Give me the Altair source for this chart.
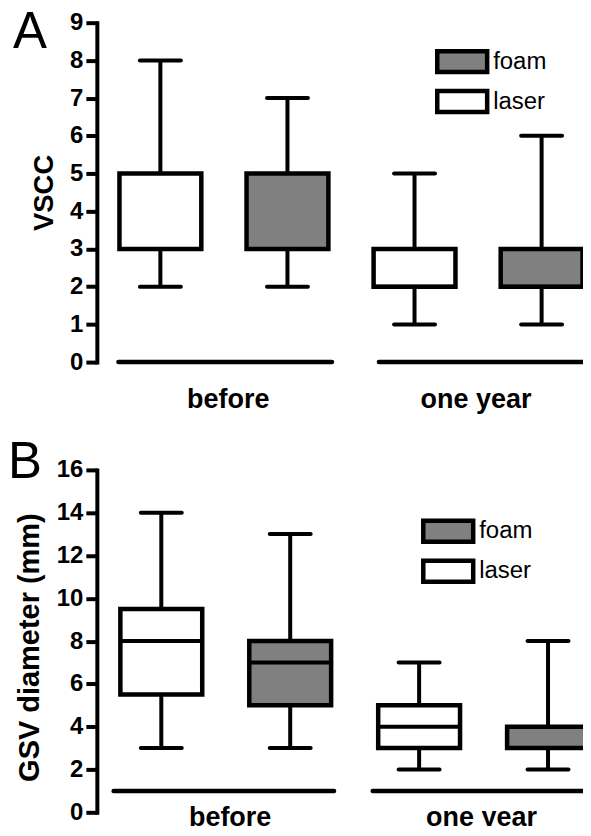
import altair as alt
import pandas as pd

FONT = "Liberation Sans"

positions = [1, 2, 3, 4]
methods = ["laser", "foam", "laser", "foam"]
legend_order = ["foam", "laser"]
fills = ["#808080", "#ffffff"]

# Panel A: VSCC
a_min = [2, 2, 1, 1]
a_q1 = [3, 3, 2, 2]
a_med = [3, 3, 2, 2]
a_q3 = [5, 5, 3, 3]
a_max = [8, 7, 5, 6]

# Panel B: GSV diameter (mm)
b_min = [3, 3, 2, 2]
b_q1 = [5.5, 5, 3, 3]
b_med = [8, 7, 4, 3]
b_q3 = [9.5, 8, 5, 4]
b_max = [14, 13, 7, 8]

group_names = ["before", "one year"]
group_centers = [1.53, 3.48]
a_xmax = 4.365
b_xmax = 4.31
a_line_start = [0.67, 2.72]
a_line_end = [2.35, a_xmax]
a_line_level = [0, 0]
b_line_start = [0.63, 2.64]
b_line_end = [2.34, b_xmax]
b_line_level = [1, 1]


def panel(letter, title, title_size, mins, q1, med, q3, maxs, ymax, ystep, x_max,
          width, height, line_start, line_end, line_level, label_pad, title_x,
          title_dy, letter_x, letter_y, legend_x, legend_y):
    df = pd.DataFrame(dict(pos=positions, method=methods, lo=mins, q1=q1,
                           med=med, q3=q3, hi=maxs))
    lines = pd.DataFrame(dict(group=group_names, start=line_start, end=line_end,
                              level=line_level))
    xs = alt.Scale(domain=[0.5, x_max], nice=False, zero=False)
    ys = alt.Scale(domain=[0, ymax], nice=False, zero=True)
    label_expr = (f"datum.value < {sum(group_centers) / 2} ? "
                  f"'{group_names[0]}' : '{group_names[1]}'")
    xaxis = alt.Axis(values=group_centers, labelExpr=label_expr, domain=False,
                     ticks=False, tickSize=0, grid=False, labelPadding=label_pad,
                     labelBaseline="alphabetic", labelFontSize=27, labelFont=FONT,
                     labelFontWeight="bold", labelColor="black", title=None,
                     labelOverlap=False)
    yaxis = alt.Axis(values=list(range(0, ymax + 1, ystep)), domainWidth=4,
                     domainColor="black", domainCap="square", tickWidth=4,
                     tickColor="black", tickSize=11, labelPadding=3,
                     labelFontSize=24, labelFont=FONT, labelFontWeight="bold",
                     labelColor="black", grid=False, title=title,
                     titleFontSize=title_size, titleFont=FONT,
                     titleFontWeight="bold", titleColor="black", titleX=title_x,
                     titleY=height / 2 + title_dy, titleBaseline="alphabetic",
                     titleAlign="center", titleAngle=270, labelOverlap=False)

    def X(field):
        return alt.X(field, scale=xs, axis=xaxis)

    def Y(field):
        return alt.Y(field, scale=ys, axis=yaxis)

    base = alt.Chart(df)
    whisk = base.mark_rule(color="black", strokeWidth=4).encode(
        x=X("pos:Q"), y=Y("lo:Q"), y2="hi:Q")
    cap_lo = base.mark_rule(color="black", strokeWidth=4, strokeCap="round",
                            xOffset=-20.5, x2Offset=20.5).encode(
        x=X("pos:Q"), x2="pos:Q", y=Y("lo:Q"))
    cap_hi = base.mark_rule(color="black", strokeWidth=4, strokeCap="round",
                            xOffset=-20.5, x2Offset=20.5).encode(
        x=X("pos:Q"), x2="pos:Q", y=Y("hi:Q"))
    box = base.mark_rect(stroke="black", strokeWidth=4.5, xOffset=-41,
                         x2Offset=41).encode(
        x=X("pos:Q"), x2="pos:Q", y=Y("q1:Q"), y2="q3:Q",
        fill=alt.Fill("method:N",
                      scale=alt.Scale(domain=legend_order, range=fills),
                      legend=alt.Legend(
                          title=None, orient="none", legendX=legend_x,
                          legendY=legend_y, padding=0,
                          symbolType="M-2,-0.84H2V0.84H-2Z", symbolSize=625,
                          symbolStrokeColor="black", symbolStrokeWidth=4.5,
                          symbolOpacity=1,
                          labelFontSize=24, labelFont=FONT, labelColor="black",
                          labelOffset=16, rowPadding=0)),
    )
    median = base.mark_rule(color="black", strokeWidth=4, xOffset=-41,
                            x2Offset=41).encode(x=X("pos:Q"), x2="pos:Q",
                                                y=Y("med:Q"))
    glines = alt.Chart(lines).mark_rule(color="black", strokeWidth=4.5,
                                        strokeCap="round").encode(
        x=X("start:Q"), x2="end:Q", y=Y("level:Q"))
    let = alt.Chart(pd.DataFrame({"letter": [letter]})).mark_text(
        fontSize=51, font=FONT, align="left", baseline="top",
        color="black").encode(text="letter:N", x=alt.value(letter_x),
                              y=alt.value(letter_y))
    return alt.layer(whisk, cap_lo, cap_hi, box, median, glines, let).properties(
        width=width, height=height)


pa = panel("A", "VSCC", 27.5, a_min, a_q1, a_med, a_q3, a_max, 9, 1, a_xmax, 492,
           340, a_line_start, a_line_end, a_line_level, 45, -44, 0, -84, -14.5,
           351, 24)
pb = panel("B", "GSV diameter (mm)", 29, b_min, b_q1, b_med, b_q3, b_max, 16, 2,
           b_xmax, 492, 343, b_line_start, b_line_end, b_line_level, 13, -58, 6,
           -89, -31.5, 337, 46.5)

chart = alt.vconcat(pa, pb, spacing=25).resolve_scale(
    fill="independent", x="independent", y="independent").resolve_legend(
    fill="independent").properties(
    padding={"left": 0, "top": -2, "right": -9, "bottom": -5},
    background="white").configure_view(stroke=None)

chart.save("out.html", embed_options={"renderer": "svg", "actions": False})
